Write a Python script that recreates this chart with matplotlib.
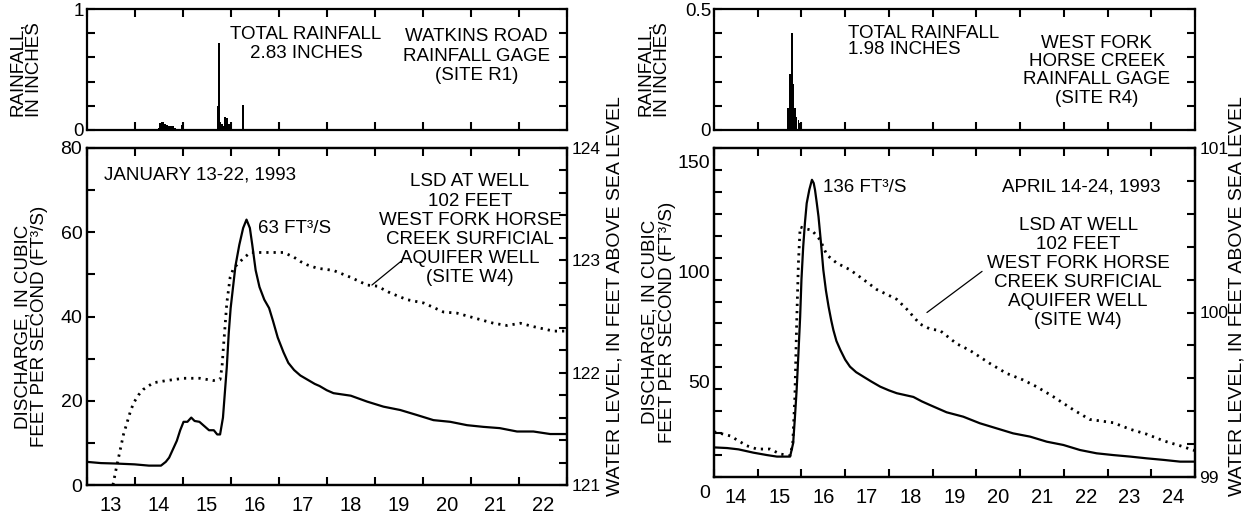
import matplotlib
matplotlib.use("Agg")
import matplotlib.pyplot as plt
from matplotlib.ticker import MultipleLocator, NullFormatter, FixedLocator, FuncFormatter
from matplotlib.transforms import ScaledTranslation

plt.rcParams['font.family'] = ['Liberation Sans', 'DejaVu Sans']
plt.rcParams['xtick.direction'] = 'in'
plt.rcParams['ytick.direction'] = 'in'
plt.rcParams['xtick.major.size'] = 6
plt.rcParams['xtick.minor.size'] = 6
plt.rcParams['ytick.major.size'] = 6
plt.rcParams['ytick.minor.size'] = 6
plt.rcParams['xtick.major.width'] = 1.5
plt.rcParams['xtick.minor.width'] = 1.5
plt.rcParams['ytick.major.width'] = 1.5
plt.rcParams['ytick.minor.width'] = 1.5

# --- January 13-22, 1993 (site R1 rainfall, stream discharge, well W4) ---
jan_rain_day = [14.50, 14.53, 14.57, 14.60, 14.64, 14.67, 14.70, 14.74, 14.78, 14.81, 14.85,
                14.98, 15.73, 15.76, 15.78, 15.82, 15.85, 15.89, 15.92, 15.95, 15.99, 16.25, 16.40]
jan_rain = [0.02, 0.06, 0.07, 0.07, 0.05, 0.04, 0.03, 0.03, 0.03, 0.03, 0.02,
            0.04, 0.20, 0.72, 0.07, 0.05, 0.03, 0.11, 0.10, 0.05, 0.05, 0.21, 0.01]

jan_q_day = [13.0, 13.3, 13.6, 14.0, 14.3, 14.55, 14.65, 14.72, 14.8, 14.88, 14.95, 15.02, 15.1,
             15.18, 15.25, 15.35, 15.45, 15.55, 15.65, 15.72, 15.78, 15.84, 15.88, 15.92, 15.96,
             16.0, 16.05, 16.1, 16.18, 16.26, 16.33, 16.4, 16.45, 16.52, 16.6, 16.7, 16.8, 16.88,
             16.98, 17.1, 17.2, 17.32, 17.45, 17.6, 17.75, 17.85, 18.0, 18.14, 18.5, 18.84, 19.18,
             19.53, 19.88, 20.22, 20.57, 20.92, 21.26, 21.6, 21.96, 22.3, 22.65, 23.0]
jan_q = [5.5, 5.2, 5.1, 4.9, 4.6, 4.6, 5.5, 6.5, 8.5, 10.5, 13.0, 15.0, 15.0,
         16.0, 15.2, 15.0, 14.0, 13.0, 13.0, 12.0, 12.0, 16.0, 22.0, 28.0, 36.0,
         42.0, 47.0, 52.0, 57.0, 61.0, 63.0, 61.0, 57.0, 51.0, 47.0, 44.0, 42.0, 39.0,
         35.0, 31.5, 29.0, 27.3, 26.0, 25.0, 24.0, 23.5, 22.5, 21.8, 21.2, 19.8, 18.6,
         17.8, 16.6, 15.4, 15.0, 14.2, 13.8, 13.5, 12.7, 12.7, 12.1, 12.1]

jan_wl_day = [13.55, 13.62, 13.7, 13.77, 13.84, 13.91, 13.98, 14.08, 14.18, 14.39, 14.67, 15.02,
              15.36, 15.64, 15.78, 15.82, 15.85, 15.89, 15.92, 15.99, 16.06, 16.13, 16.27, 16.41,
              16.75, 17.1, 17.31, 17.45, 17.59, 17.8, 18.14, 18.49, 18.84, 19.05, 19.32, 19.67,
              20.02, 20.43, 20.71, 21.13, 21.47, 21.75, 22.03, 22.3, 22.72, 23.0]
jan_wl = [121.0, 121.15, 121.31, 121.45, 121.55, 121.65, 121.73, 121.8, 121.85, 121.91, 121.93,
          121.95, 121.95, 121.93, 121.94, 122.05, 122.23, 122.45, 122.62, 122.85, 122.93, 122.96,
          123.02, 123.07, 123.07, 123.07, 123.03, 122.99, 122.96, 122.93, 122.91, 122.85, 122.78,
          122.77, 122.71, 122.65, 122.62, 122.54, 122.53, 122.48, 122.44, 122.42, 122.44, 122.41,
          122.37, 122.37]

# --- April 14-24, 1993 (site R4 rainfall, stream discharge, well W4) ---
apr_rain_day = [15.68, 15.70, 15.74, 15.78, 15.81, 15.85, 15.89, 15.93, 15.96, 16.00]
apr_rain = [0.09, 0.09, 0.23, 0.40, 0.19, 0.09, 0.055, 0.04, 0.03, 0.02]

apr_q_day = [14.0, 14.3, 14.56, 14.9, 15.21, 15.44, 15.74, 15.81, 15.85, 15.89, 15.93, 15.97,
             16.0, 16.04, 16.08, 16.12, 16.18, 16.24, 16.28, 16.31, 16.35, 16.39, 16.45, 16.5,
             16.56, 16.62, 16.68, 16.73, 16.8, 16.89, 17.0, 17.11, 17.25, 17.42, 17.6, 17.8,
             18.0, 18.18, 18.56, 18.75, 18.94, 19.32, 19.7, 20.08, 20.46, 20.84, 21.23, 21.61,
             21.99, 22.37, 22.75, 23.13, 23.52, 23.9, 24.28, 24.66, 25.0]
apr_q = [13.5, 13.2, 12.6, 11.1, 10.0, 9.3, 9.3, 15.4, 27.0, 39.7, 56.0, 73.0,
         90.0, 105.0, 116.0, 124.8, 131.0, 135.5, 134.0, 130.9, 125.0, 118.7, 106.0, 94.4,
         85.0, 77.7, 71.5, 67.0, 62.0, 57.9, 53.5, 50.3, 47.8, 45.7, 43.5, 41.2,
         39.5, 38.2, 36.5, 34.5, 32.8, 29.5, 27.5, 24.5, 22.2, 19.9, 18.4, 16.1,
         14.6, 12.3, 10.8, 10.0, 9.3, 8.5, 7.8, 7.0, 7.0]

apr_wl_day = [14.0, 14.37, 14.75, 14.98, 15.28, 15.51, 15.74, 15.8, 15.85, 15.89, 15.93, 15.97,
              16.08, 16.24, 16.43, 16.58, 16.81, 17.11, 17.42, 17.72, 18.03, 18.18, 18.41, 18.71,
              18.94, 19.17, 19.55, 19.85, 20.31, 20.69, 21.07, 21.37, 21.75, 22.21, 22.59, 23.13,
              23.52, 23.9, 24.28, 24.66, 25.0]
apr_wl = [99.275, 99.25, 99.19, 99.17, 99.17, 99.14, 99.13, 99.2, 99.49, 99.93, 100.3, 100.52,
          100.51, 100.5, 100.44, 100.35, 100.3, 100.26, 100.2, 100.14, 100.1, 100.08, 100.02, 99.93,
          99.9, 99.89, 99.81, 99.77, 99.69, 99.63, 99.59, 99.55, 99.49, 99.41, 99.35, 99.33,
          99.29, 99.26, 99.22, 99.19, 99.16]

FS = 13.5
LW_AX = 1.6


def style_axes(ax, xmin, xmax, right=True):
    for sp in ax.spines.values():
        sp.set_linewidth(LW_AX)
    ax.set_xlim(xmin, xmax)
    ax.xaxis.set_major_locator(MultipleLocator(1))
    ax.xaxis.set_major_formatter(NullFormatter())
    ax.tick_params(axis='x', which='major', top=True, bottom=True)
    ax.tick_params(axis='y', which='both', left=True, right=right)


fig = plt.figure(figsize=(12.47, 5.15), dpi=100)

panels = [
    dict(x0=86.5, w=480.5, bot=485, xr=(13, 23), rain_day=jan_rain_day, rain=jan_rain, rmax=1.0,
         q_day=jan_q_day, q=jan_q, qmax=80, wl_day=jan_wl_day, wl=jan_wl, wlr=(121, 124)),
    dict(x0=714, w=481, bot=477, xr=(14, 25), rain_day=apr_rain_day, rain=apr_rain, rmax=0.5,
         q_day=apr_q_day, q=apr_q, qmax=150, wl_day=apr_wl_day, wl=apr_wl, wlr=(99, 101)),
]

axes = []
for p in panels:
    W, H = 1247.0, 515.0
    ax_r = fig.add_axes([p['x0'] / W, 1 - 130 / H, p['w'] / W, 121 / H])
    ax_q = fig.add_axes([p['x0'] / W, 1 - p['bot'] / H, p['w'] / W, (p['bot'] - 148) / H])
    ax_w = ax_q.twinx()

    # rainfall bars
    ax_r.bar(p['rain_day'], p['rain'], width=1 / 26, color='black', linewidth=0)
    style_axes(ax_r, *p['xr'])
    ax_r.set_ylim(0, p['rmax'])
    ax_r.yaxis.set_major_locator(FixedLocator([0, p['rmax']]))
    ax_r.yaxis.set_minor_locator(MultipleLocator(p['rmax'] / 5))
    ax_r.yaxis.set_major_formatter(FuncFormatter(lambda v, pos: '%g' % v))
    ax_r.tick_params(axis='y', labelsize=FS, pad=2)
    ax_r.text(-0.125, 0.5, 'RAINFALL,\nIN INCHES', transform=ax_r.transAxes, rotation=90,
              ha='center', va='center', fontsize=FS, linespacing=1.0)

    # discharge and water level
    ax_q.plot(p['q_day'], p['q'], color='black', lw=1.6)
    ax_w.plot(p['wl_day'], p['wl'], color='black', lw=2.0, linestyle=(0, (0.8, 1.8)))
    style_axes(ax_q, *p['xr'], right=False)
    for sp in ax_w.spines.values():
        sp.set_linewidth(LW_AX)
    ax_q.set_ylim(0, p['qmax'])
    ax_w.set_ylim(*p['wlr'])
    ax_w.yaxis.set_major_locator(MultipleLocator(1))
    ax_w.yaxis.set_minor_locator(MultipleLocator(0.2))
    ax_w.tick_params(axis='y', which='both', labelsize=12.5, pad=3)
    ax_q.xaxis.set_minor_locator(MultipleLocator(1, offset=0.5))
    ax_q.xaxis.set_minor_formatter(FuncFormatter(
        lambda v, pos, hi=p['xr'][1]: '%d' % int(v) if v < hi else ''))
    ax_q.tick_params(axis='x', which='minor', length=0, labelsize=14.5, pad=8)
    ax_q.tick_params(axis='y', labelsize=14, pad=3)
    ax_q.text(-0.115, 0.47, 'DISCHARGE, IN CUBIC\nFEET PER SECOND (FT³/S)', transform=ax_q.transAxes,
              rotation=90, ha='center', va='center', fontsize=FS, linespacing=1.0)
    axes.append((ax_r, ax_q, ax_w))

# left panel details
ax_r, ax_q, ax_w = axes[0]
ax_q.yaxis.set_major_locator(MultipleLocator(20))
ax_q.yaxis.set_minor_locator(MultipleLocator(10))
ax_w.text(1.10, 0.561, 'WATER LEVEL, IN FEET ABOVE SEA LEVEL', transform=ax_w.transAxes,
          rotation=90, ha='center', va='center', fontsize=14)
ax_r.text(0.457, 0.71, 'TOTAL RAINFALL\n2.83 INCHES', transform=ax_r.transAxes,
          ha='center', va='center', fontsize=FS, linespacing=1.15)
ax_r.text(0.812, 0.61, 'WATKINS ROAD\nRAINFALL GAGE\n(SITE R1)', transform=ax_r.transAxes,
          ha='center', va='center', fontsize=FS, linespacing=1.2)
ax_q.text(0.236, 0.92, 'JANUARY 13-22, 1993', transform=ax_q.transAxes,
          ha='center', va='center', fontsize=FS)
ax_q.text(0.357, 0.76, '63 FT³/S', transform=ax_q.transAxes, ha='left', va='center', fontsize=FS)
ax_q.text(0.798, 0.757, 'LSD AT WELL\n102 FEET\nWEST FORK HORSE\nCREEK SURFICIAL\nAQUIFER WELL\n(SITE W4)',
          transform=ax_q.transAxes, ha='center', va='center', fontsize=FS, linespacing=1.17)
ax_w.annotate('', xy=(18.94, 122.78), xytext=(19.57, 123.0),
              arrowprops=dict(arrowstyle='-', lw=0.9, color='black', shrinkA=0, shrinkB=0))

# right panel details
ax_r, ax_q, ax_w = axes[1]
ax_q.yaxis.set_major_locator(MultipleLocator(50))
ax_q.yaxis.set_minor_locator(MultipleLocator(10))
shift = ScaledTranslation(0, -14 / 100, fig.dpi_scale_trans)
for lab in ax_q.get_yticklabels():
    lab.set_transform(lab.get_transform() + shift)
ax_w.text(1.088, 0.55, 'WATER LEVEL, IN FEET ABOVE SEA LEVEL', transform=ax_w.transAxes,
          rotation=90, ha='center', va='center', fontsize=14)
ax_r.text(0.279, 0.73, 'TOTAL RAINFALL\n1.98 INCHES', transform=ax_r.transAxes,
          ha='left', va='center', fontsize=FS, linespacing=0.92)
ax_r.text(0.796, 0.49, 'WEST FORK\nHORSE CREEK\nRAINFALL GAGE\n(SITE R4)', transform=ax_r.transAxes,
          ha='center', va='center', fontsize=FS, linespacing=1.1)
ax_q.text(0.227, 0.88, '136 FT³/S', transform=ax_q.transAxes, ha='left', va='center', fontsize=FS)
ax_q.text(0.764, 0.88, 'APRIL 14-24, 1993', transform=ax_q.transAxes,
          ha='center', va='center', fontsize=FS)
ax_q.text(0.757, 0.62, 'LSD AT WELL\n102 FEET\nWEST FORK HORSE\nCREEK SURFICIAL\nAQUIFER WELL\n(SITE W4)',
          transform=ax_q.transAxes, ha='center', va='center', fontsize=FS, linespacing=1.15)
ax_w.annotate('', xy=(18.87, 100.0), xytext=(20.13, 100.25),
              arrowprops=dict(arrowstyle='-', lw=0.9, color='black', shrinkA=0, shrinkB=0))

fig.savefig('out.png', dpi=100)
